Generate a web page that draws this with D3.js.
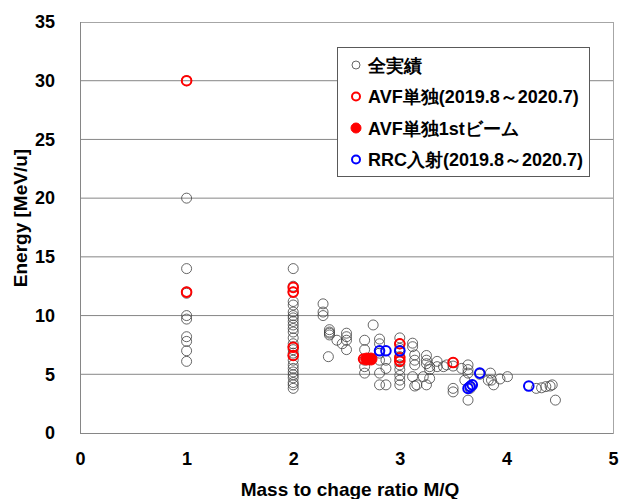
<!DOCTYPE html>
<html>
<head>
<meta charset="utf-8">
<script src="https://cdn.jsdelivr.net/npm/d3@7"></script>
<style>
  body { margin: 0; background: #fff; }
  text { font-family: "Liberation Sans", Arial, sans-serif; }
</style>
</head>
<body>
<div class="chart"></div>
<script>
// all runs (black open circles)
const allMQ = [
  1, 1, 1, 1, 1, 1, 1, 1, 1, 1, 1,
  2, 2, 2, 2, 2, 2, 2, 2, 2, 2, 2, 2, 2, 2, 2, 2, 2, 2, 2, 2, 2, 2, 2, 2, 2, 2, 2,
  2.28, 2.28, 2.28, 2.34, 2.34, 2.34, 2.34, 2.33, 2.41, 2.46, 2.5, 2.5, 2.5, 2.5,
  2.67, 2.67, 2.67, 2.67, 2.67, 2.75, 2.81, 2.81, 2.81, 2.81, 2.81, 2.81, 2.87, 2.87, 2.87,
  3, 3, 3, 3, 3, 3, 3, 3, 3, 3, 3,
  3.12, 3.12, 3.12, 3.14, 3.14, 3.14, 3.14, 3.16, 3.22, 3.25, 3.25, 3.25, 3.25,
  3.28, 3.28, 3.28, 3.35, 3.35, 3.41, 3.44, 3.5, 3.5, 3.5, 3.5, 3.58, 3.61,
  3.64, 3.64, 3.64, 3.64, 3.66, 3.66, 3.75, 3.83, 3.85, 3.86, 3.88, 3.94, 4.01,
  4.28, 4.33, 4.37, 4.41, 4.43, 4.46
];
const allE = [
  30, 20, 14, 12, 11.9, 10, 9.7, 8.2, 7.8, 7.0, 6.1,
  14, 12.5, 12.0, 11.2, 10.9, 10.3, 10.0, 9.8, 9.5, 9.2, 8.9, 8.6, 8.1, 7.6, 7.35, 7.1, 6.8, 6.6, 6.2, 5.8, 5.5, 5.2, 4.95, 4.7, 4.3, 4.1, 3.8,
  11.0, 10.3, 10.0, 8.8, 8.6, 8.5, 8.35, 6.5, 7.9, 7.6, 8.5, 8.2, 7.9, 7.1,
  7.9, 7.1, 6.2, 5.65, 5.1, 9.2, 8.0, 7.6, 6.8, 6.2, 5.1, 4.1, 6.2, 5.5, 4.1,
  8.1, 7.6, 7.2, 7.0, 6.5, 6.2, 5.8, 5.4, 4.9, 4.5, 4.1,
  7.65, 7.35, 4.8, 6.65, 6.2, 5.8, 4.0, 4.1, 4.8, 6.6, 6.2, 5.9, 4.1,
  5.65, 5.4, 4.65, 6.1, 5.65, 5.65, 5.8, 6.0, 5.7, 3.8, 3.5, 5.5, 4.5,
  5.8, 5.4, 5.1, 2.8, 4.0, 3.8, 5.0, 4.5, 5.1, 4.5, 4.1, 4.6, 4.8,
  3.8, 3.85, 3.95, 4.0, 4.1, 2.8
];
// AVF alone (red open circles)
const avfMQ = [1, 1, 2, 2, 2, 2, 2.66, 3, 3, 3, 3.5];
const avfE = [30, 12, 12.4, 12.0, 7.3, 6.6, 6.3, 7.6, 6.4, 6.1, 6.0];
// AVF alone, 1st beam (red filled)
const firstMQ = [2.69, 2.73];
const firstE = [6.3, 6.3];
// RRC injection (blue open circles)
const rrcMQ = [2.81, 2.87, 3.0, 3.64, 3.66, 3.68, 3.75, 4.21];
const rrcE = [7.0, 7.0, 7.0, 3.8, 3.95, 4.1, 5.1, 4.0];

const xTicks = [0, 1, 2, 3, 4, 5];
const yTicks = [0, 5, 10, 15, 20, 25, 30, 35];
const legendLabels = ["全実績", "AVF単独(2019.8～2020.7)", "AVF単独1stビーム", "RRC入射(2019.8～2020.7)"];

const width = 621, height = 499;
const margin = { top: 22, right: 8, bottom: 66, left: 80 };
const plotW = width - margin.left - margin.right;
const plotH = height - margin.top - margin.bottom;

const svg = d3.select(".chart").append("svg")
  .attr("width", width)
  .attr("height", height);

const g = svg.append("g")
  .attr("transform", `translate(${margin.left},${margin.top})`);

const x = d3.scaleLinear().domain([0, 5]).range([0, plotW]);
const y = d3.scaleLinear().domain([0, 35]).range([plotH, 0]);

// gridlines
g.selectAll(".grid")
  .data(yTicks.slice(1, -1))
  .enter().append("line")
  .attr("x1", 0).attr("x2", plotW)
  .attr("y1", d => y(d)).attr("y2", d => y(d))
  .attr("stroke", "#868686")
  .attr("stroke-width", 1);

// plot border
g.append("rect")
  .attr("x", 0.5).attr("y", 0.5)
  .attr("width", plotW).attr("height", plotH)
  .attr("fill", "none")
  .attr("stroke", "#a6a6a6")
  .attr("stroke-width", 1);
g.append("line")
  .attr("x1", 0.5).attr("x2", 0.5).attr("y1", 0).attr("y2", plotH)
  .attr("stroke", "#868686");
g.append("line")
  .attr("x1", 0).attr("x2", plotW).attr("y1", plotH + 0.5).attr("y2", plotH + 0.5)
  .attr("stroke", "#868686");

// axes (labels only)
const xAxis = g.append("g")
  .attr("transform", `translate(0,${plotH + 16})`)
  .call(d3.axisBottom(x).tickValues(xTicks).tickSize(0).tickFormat(d3.format("d")));
xAxis.select(".domain").remove();
xAxis.selectAll("text")
  .attr("font-family", "Liberation Sans, Arial, sans-serif")
  .attr("font-size", 18).attr("font-weight", "bold").attr("fill", "#000");

const yAxis = g.append("g")
  .attr("transform", "translate(-22,0)")
  .call(d3.axisLeft(y).tickValues(yTicks).tickSize(0).tickFormat(d3.format("d")));
yAxis.select(".domain").remove();
yAxis.selectAll("text")
  .attr("font-family", "Liberation Sans, Arial, sans-serif")
  .attr("font-size", 18).attr("font-weight", "bold").attr("fill", "#000");

// axis titles
svg.append("text")
  .attr("x", 350)
  .attr("y", 496)
  .attr("text-anchor", "middle")
  .attr("font-size", 19).attr("font-weight", "bold")
  .text("Mass to chage ratio M/Q");

svg.append("text")
  .attr("transform", "translate(27,218) rotate(-90)")
  .attr("text-anchor", "middle")
  .attr("font-size", 19).attr("font-weight", "bold")
  .text("Energy [MeV/u]");

// points
function drawSeries(mq, e, opts) {
  g.append("g").selectAll("circle")
    .data(d3.zip(mq, e))
    .enter().append("circle")
    .attr("cx", d => x(d[0]))
    .attr("cy", d => y(d[1]))
    .attr("r", opts.r)
    .attr("fill", opts.fill)
    .attr("stroke", opts.stroke)
    .attr("stroke-width", opts.sw);
}

drawSeries(allMQ, allE, { r: 5, fill: "none", stroke: "#404040", sw: 0.8 });
drawSeries(avfMQ, avfE, { r: 4.8, fill: "none", stroke: "#ff0000", sw: 2 });
drawSeries(firstMQ, firstE, { r: 6, fill: "#ff0000", stroke: "#ff0000", sw: 1 });
drawSeries(rrcMQ, rrcE, { r: 4.8, fill: "none", stroke: "#0000ff", sw: 2 });

// legend
const legend = svg.append("g").attr("transform", "translate(337,47)");
legend.append("rect")
  .attr("x", 0.5).attr("y", 0.5)
  .attr("width", 252).attr("height", 129)
  .attr("fill", "#fff")
  .attr("stroke", "#595959");

const legendStyles = [
  { r: 4, fill: "none", stroke: "#404040", sw: 0.8 },
  { r: 4, fill: "none", stroke: "#ff0000", sw: 2 },
  { r: 5, fill: "#ff0000", stroke: "#ff0000", sw: 1 },
  { r: 4, fill: "none", stroke: "#0000ff", sw: 2 }
];

legendLabels.forEach((label, i) => {
  const ly = 18 + i * 31.5;
  const s = legendStyles[i];
  legend.append("circle")
    .attr("cx", 19).attr("cy", ly)
    .attr("r", s.r)
    .attr("fill", s.fill)
    .attr("stroke", s.stroke)
    .attr("stroke-width", s.sw);
  legend.append("text")
    .attr("x", 31).attr("y", ly + 6.5)
    .attr("font-family", "'Liberation Sans', 'Noto Sans CJK JP', sans-serif")
    .attr("font-size", 18).attr("font-weight", "bold")
    .text(label);
});
</script>
</body>
</html>
